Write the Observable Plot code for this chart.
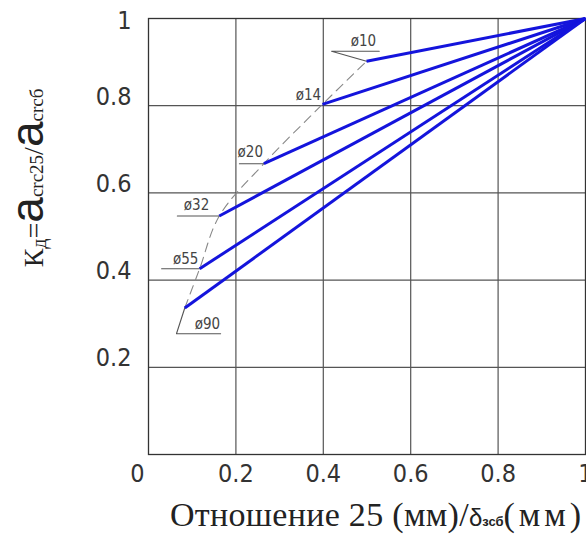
<!DOCTYPE html>
<html>
<head>
<meta charset="utf-8">
<script src="https://cdn.jsdelivr.net/npm/d3@7"></script>
<script src="https://cdn.jsdelivr.net/npm/@observablehq/plot@0.6"></script>
<style>
  html, body { margin: 0; padding: 0; background: #fff; }
  #chart { width: 586px; height: 535px; overflow: hidden; }
  .gost { font-stretch: condensed; }
</style>
</head>
<body>
<div id="chart"></div>
<script>
// ---- data ----
const diameters = ["ø10", "ø14", "ø20", "ø32", "ø55", "ø90"];
const startX = [0.499, 0.398, 0.264, 0.162, 0.117, 0.083];
const startY = [0.902, 0.803, 0.667, 0.547, 0.426, 0.336];
const endX = 1;
const endY = 1;
// label anchor positions (data units)
const labelX = [0.492, 0.366, 0.233, 0.110, 0.085, 0.135];
const labelY = [0.938, 0.812, 0.682, 0.560, 0.438, 0.287];
// leader lines (polylines, data units)
const leaderGroup = ["ø10", "ø10", "ø10", "ø20", "ø20", "ø32", "ø32", "ø55", "ø55", "ø90", "ø90", "ø90"];
const leaderX = [0.499, 0.419, 0.528, 0.208, 0.264, 0.066, 0.162, 0.030, 0.117, 0.083, 0.064, 0.165];
const leaderY = [0.902, 0.925, 0.925, 0.667, 0.667, 0.547, 0.547, 0.426, 0.426, 0.336, 0.277, 0.277];
const gridTicks = [0.2, 0.4, 0.6, 0.8];
const xTicks = [0.2, 0.4, 0.6, 0.8, 1];
const yTicks = [0.2, 0.4, 0.6, 0.8];

const series = diameters.map((d, i) => ({d, x1: startX[i], y1: startY[i], x2: endX, y2: endY, lx: labelX[i], ly: labelY[i]}));
const envelope = series.slice().sort((a, b) => a.x1 - b.x1);
const leaders = leaderGroup.map((g, i) => ({g, x: leaderX[i], y: leaderY[i]}));

const tickFont = "'DejaVu Sans Condensed', 'DejaVu Sans', sans-serif";
const fmt = d => String(d);

const chart = Plot.plot({
  width: 586,
  height: 535,
  marginTop: 18,
  marginLeft: 148,
  marginRight: 1,
  marginBottom: 81,
  style: {fontFamily: tickFont, background: "#fff", overflow: "visible"},
  x: {domain: [0, 1]},
  y: {domain: [0, 1]},
  marks: [
    Plot.gridX(gridTicks, {stroke: "#555", strokeOpacity: 1, strokeWidth: 1.2}),
    Plot.gridY(gridTicks, {stroke: "#555", strokeOpacity: 1, strokeWidth: 1.2}),
    Plot.frame({stroke: "#333", strokeWidth: 1.3}),
    Plot.line(envelope, {x: "x1", y: "y1", curve: "catmull-rom", stroke: "#888", strokeWidth: 1.1, strokeDasharray: "9,6"}),
    Plot.line(leaders, {x: "x", y: "y", z: "g", stroke: "#555", strokeWidth: 1.1}),
    Plot.link(series, {x1: "x1", y1: "y1", x2: "x2", y2: "y2", stroke: "#1414dc", strokeWidth: 3}),
    Plot.text(series, {x: "lx", y: "ly", text: "d", textAnchor: "middle", lineAnchor: "bottom", fontSize: 15, fill: "#444", fontFamily: tickFont}),
    Plot.axisX(xTicks, {tickSize: 0, tickPadding: 10, fontSize: 25, fill: "#333", tickFormat: fmt, label: null}),
    Plot.axisX([0], {tickSize: 0, tickPadding: 10, fontSize: 25, fill: "#333", dx: -11, tickFormat: fmt, label: null}),
    Plot.axisY(yTicks, {tickSize: 0, tickPadding: 17, fontSize: 25, fill: "#333", dy: -9, tickFormat: fmt, label: null}),
    Plot.axisY([1], {tickSize: 0, tickPadding: 17, fontSize: 25, fill: "#333", dy: 2, tickFormat: fmt, label: null})
  ]
});

chart.classList.add("gost");
document.getElementById("chart").appendChild(chart);

// ---- titles with sub/superscripts ----
const svg = d3.select(chart);
const serif = "'Liberation Serif', 'DejaVu Serif', serif";
const sans = "'Liberation Sans', Arial, sans-serif";

// y-axis title (rotated)
const yt = svg.append("text")
  .attr("transform", "translate(43,178) rotate(-90)")
  .attr("text-anchor", "middle")
  .style("font-stretch", "normal")
  .attr("fill", "#222");
const ySpans = [
  {t: "К", f: serif, s: 28, dy: 0},
  {t: "д", f: serif, s: 20, dy: 3},
  {t: "=", f: serif, s: 28, dy: -3},
  {t: "a", f: sans, s: 46, dy: 0},
  {t: "crc25", f: serif, s: 19, dy: 0},
  {t: "/", f: serif, s: 28, dy: 0},
  {t: "a", f: sans, s: 46, dy: 0},
  {t: "crcб", f: serif, s: 19, dy: 0}
];
ySpans.forEach(p => yt.append("tspan").attr("font-family", p.f).attr("font-size", p.s).attr("dy", p.dy).text(p.t));

// x-axis title
const xt = svg.append("text")
  .attr("x", 170).attr("y", 526)
  .attr("text-anchor", "start")
  .style("font-stretch", "normal")
  .attr("fill", "#222");
const xSpans = [
  {t: "Отношение 25 (мм)/", f: serif, s: 34, w: "normal", ls: 0.3},
  {t: "δ", f: sans, s: 24, w: "normal", ls: 0},
  {t: "зсб", f: sans, s: 13, w: "bold", ls: 0},
  {t: "(мм)", f: serif, s: 34, w: "normal", ls: 4}
];
xSpans.forEach(p => xt.append("tspan").attr("font-family", p.f).attr("font-size", p.s).attr("font-weight", p.w).attr("letter-spacing", p.ls).text(p.t));
</script>
</body>
</html>
